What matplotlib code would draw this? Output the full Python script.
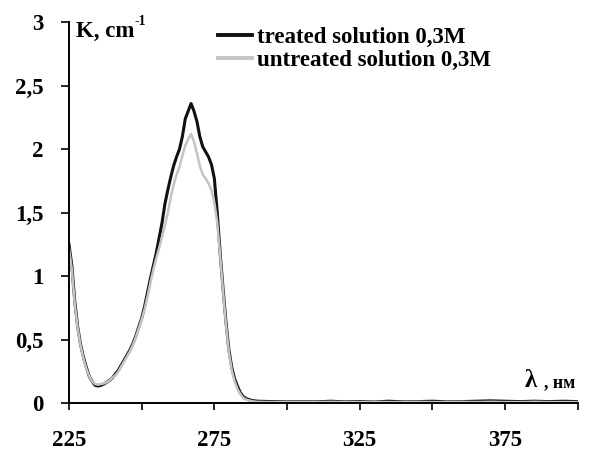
#!/usr/bin/env python3
import matplotlib
matplotlib.use('Agg')
import matplotlib.pyplot as plt

# wavelength, nm
WAVELENGTH = [225, 226, 227, 228, 229, 230, 231, 232, 233, 234, 235, 236, 237, 238, 239,
              240, 241, 242, 243, 244, 245, 246, 247, 248, 249, 250, 251, 252, 253, 254,
              255, 256, 257, 258, 259, 260, 261, 262, 263, 264, 265, 266, 267, 268, 269,
              270, 271, 272, 273, 274, 275, 276, 277, 278, 279, 280, 281, 282, 283, 284,
              285, 286, 288, 290, 295, 300, 305, 310, 315, 320, 325, 330, 335, 340, 345,
              350, 355, 360, 365, 370, 375, 380, 385, 390, 395, 400]
TREATED = [1.25, 1.08, 0.80, 0.60, 0.46, 0.36, 0.28, 0.21, 0.17, 0.14, 0.135, 0.14, 0.15, 0.165, 0.18,
           0.20, 0.23, 0.26, 0.30, 0.34, 0.38, 0.42, 0.47, 0.53, 0.60, 0.67, 0.76, 0.87, 0.98, 1.08,
           1.18, 1.30, 1.42, 1.57, 1.68, 1.78, 1.87, 1.94, 2.00, 2.10, 2.24, 2.30, 2.36, 2.30, 2.22,
           2.10, 2.02, 1.98, 1.94, 1.88, 1.77, 1.50, 1.18, 0.90, 0.64, 0.42, 0.28, 0.19, 0.13, 0.08,
           0.05, 0.035, 0.02, 0.015, 0.012, 0.01, 0.012, 0.01, 0.015, 0.01, 0.012, 0.01, 0.015, 0.01, 0.012,
           0.015, 0.01, 0.012, 0.015, 0.018, 0.015, 0.012, 0.015, 0.012, 0.015, 0.012]
UNTREATED = [1.22, 1.05, 0.78, 0.59, 0.45, 0.35, 0.27, 0.21, 0.17, 0.15, 0.145, 0.15, 0.155, 0.165, 0.18,
             0.20, 0.22, 0.25, 0.29, 0.33, 0.37, 0.41, 0.46, 0.52, 0.59, 0.66, 0.74, 0.84, 0.95, 1.05,
             1.14, 1.22, 1.31, 1.40, 1.50, 1.62, 1.72, 1.80, 1.86, 1.95, 2.03, 2.08, 2.12, 2.06, 1.97,
             1.87, 1.80, 1.77, 1.73, 1.68, 1.58, 1.42, 1.16, 0.88, 0.62, 0.40, 0.26, 0.17, 0.11, 0.07,
             0.04, 0.028, 0.015, 0.01, 0.008, 0.008, 0.01, 0.008, 0.01, 0.008, 0.008, 0.01, 0.008, 0.008, 0.01,
             0.008, 0.008, 0.01, 0.008, 0.01, 0.008, 0.008, 0.01, 0.008, 0.008, 0.008]

Y_TICKS = [0, 0.5, 1, 1.5, 2, 2.5, 3]
Y_LABELS = ['0', '0,5', '1', '1,5', '2', '2,5', '3']
X_TICKS = [225, 250, 275, 300, 325, 350, 375, 400]
X_LABELS = ['225', '', '275', '', '325', '', '375', '']

FONT = 'Liberation Serif'
SIZE = 16.5


def main():
    plt.rcParams['font.family'] = FONT
    plt.rcParams['font.weight'] = 'bold'

    fig = plt.figure(figsize=(6.05, 4.55), dpi=100)
    ax = fig.add_axes([0.114, 0.114, 0.841, 0.837])

    ax.plot(WAVELENGTH, TREATED, color='#111111', lw=2.2, label='treated solution 0,3M')
    ax.plot(WAVELENGTH, UNTREATED, color='#c4c4c4', lw=1.8, label='untreated solution 0,3M')

    ax.set_xlim(225, 400)
    ax.set_ylim(0, 3)
    ax.spines['top'].set_visible(False)
    ax.spines['right'].set_visible(False)
    ax.spines['left'].set_linewidth(1.4)
    ax.spines['bottom'].set_linewidth(1.4)
    ax.set_yticks(Y_TICKS)
    ax.set_yticklabels(Y_LABELS)
    ax.set_xticks(X_TICKS)
    ax.set_xticklabels(X_LABELS)
    ax.tick_params(axis='y', direction='out', length=6, width=1.2, pad=12, labelsize=SIZE)
    ax.tick_params(axis='x', direction='out', length=5, width=1.2, pad=14, labelsize=SIZE)

    fig.text(0.126, 0.93, 'K, cm', fontsize=SIZE, fontweight='bold', va='center', ha='left')
    fig.text(0.222, 0.953, '-1', fontsize=10, fontweight='bold', va='center', ha='left')
    fig.text(0.868, 0.163, 'λ', fontsize=18, fontweight='bold', va='center', ha='left')
    fig.text(0.9, 0.158, ', нм', fontsize=13, fontweight='bold', va='center', ha='left')

    fig.legend(loc='upper left', bbox_to_anchor=(0.36, 0.94), frameon=False,
               fontsize=SIZE, handlelength=1.5, handletextpad=0.2, labelspacing=0.05,
               borderaxespad=0, borderpad=0)
    for line in fig.legends[0].get_lines():
        line.set_linewidth(2.8)

    fig.savefig('out.png', dpi=100)


if __name__ == "__main__":
    main()
